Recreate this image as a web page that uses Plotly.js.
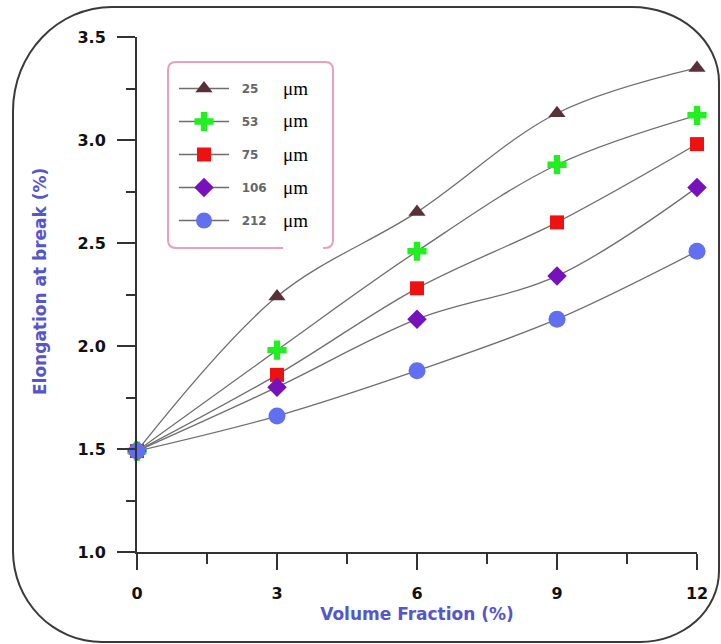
<!DOCTYPE html>
<html>
<head>
<meta charset="utf-8">
<script src="https://cdn.plot.ly/plotly-3.0.1.min.js"></script>
<style>
  html, body { margin:0; padding:0; background:#fff; }
  #wrap { position:relative; width:721px; height:644px; overflow:hidden; }
  #frame { position:absolute; left:12px; top:6px; width:708px; height:637px; box-sizing:border-box;
           border:2px solid #3a3a3a; border-radius:100px 88px 80px 90px / 105px 76px 72px 92px; }
  #chart { position:absolute; left:0; top:0; width:721px; height:644px; }
</style>
</head>
<body>
<div id="wrap">
  <div id="frame"></div>
  <div id="chart"></div>
</div>
<script>
// ---- data ----
const volumeFraction = [0, 3, 6, 9, 12];
const sizeLabels = ['25', '53', '75', '106', '212'];
const elong25  = [1.49, 2.24, 2.65, 3.13, 3.35];
const elong53  = [1.49, 1.98, 2.46, 2.88, 3.12];
const elong75  = [1.49, 1.86, 2.28, 2.60, 2.98];
const elong106 = [1.49, 1.80, 2.13, 2.34, 2.77];
const elong212 = [1.49, 1.66, 1.88, 2.13, 2.46];
const xTicks = [0, 3, 6, 9, 12];
const yTicks = [1.0, 1.5, 2.0, 2.5, 3.0, 3.5];

// ---- styles ----
const seriesValues = [elong25, elong53, elong75, elong106, elong212];
const symbols = ['triangle-up', 'cross', 'square', 'diamond', 'circle'];
const colors = ['#5a3038', '#22ee22', '#ee1111', '#7711bb', '#6070f0'];
const msizes = [15, 16, 14, 15, 17];

const traces = seriesValues.map((vals, i) => ({
  x: volumeFraction, y: vals, type: 'scatter', mode: 'lines+markers',
  name: '&nbsp;&nbsp;<b>' + sizeLabels[i] + '</b>',
  legendgroup: 'g' + i,
  line: {shape: 'spline', smoothing: 1, color: '#6e6e6e', width: 1.3},
  marker: {symbol: symbols[i], size: msizes[i], color: colors[i], line: {width: 0}},
  cliponaxis: false
}));

// pixel helpers for plot-area layout (plot area: x 137..697, y 37..552)
const L = 137, R = 697, T = 37, B = 552;
const px = v => (v - L) / (R - L);
const py = v => (B - v) / (B - T);

function roundRect(x0, y0, x1, y1, r) {
  const rx = r / (R - L), ry = r / (B - T);
  const X0 = px(x0), X1 = px(x1), Y0 = py(y0), Y1 = py(y1);
  return `M${X0+rx},${Y0} L${X1-rx},${Y0} Q${X1},${Y0} ${X1},${Y0-ry} L${X1},${Y1+ry} Q${X1},${Y1} ${X1-rx},${Y1} L${X0+rx},${Y1} Q${X0},${Y1} ${X0},${Y1+ry} L${X0},${Y0-ry} Q${X0},${Y0} ${X0+rx},${Y0} Z`;
}

const umY = [88, 121, 154, 187, 220];
const annotations = umY.map(yv => ({
  xref: 'paper', yref: 'paper', x: px(281), y: py(yv), xanchor: 'left', yanchor: 'middle',
  text: 'μm', showarrow: false, font: {family: 'Liberation Serif, serif', size: 19, color: '#000'}
}));
annotations.push({
  xref: 'paper', yref: 'paper', x: px(40), y: py(282), xanchor: 'center', yanchor: 'middle',
  textangle: -90, showarrow: false, text: '<b>Elongation at break (%)</b>',
  font: {family: 'DejaVu Sans, sans-serif', size: 17, color: '#5555cc'}
});

const layout = {
  width: 721, height: 644,
  paper_bgcolor: 'rgba(0,0,0,0)', plot_bgcolor: 'rgba(0,0,0,0)',
  margin: {l: L, r: 721 - R, t: T, b: 644 - B},
  showlegend: true,
  legend: {
    x: px(174), y: py(74), xanchor: 'left', yanchor: 'top',
    bgcolor: 'rgba(0,0,0,0)', borderwidth: 0,
    tracegroupgap: 14, itemwidth: 50,
    font: {family: 'DejaVu Sans, sans-serif', size: 12, color: '#666'}
  },
  xaxis: {
    range: [0, 12], tickvals: xTicks, ticktext: xTicks.map(String),
    showline: true, linecolor: '#333', linewidth: 2, showgrid: false, zeroline: false,
    ticks: 'outside', ticklen: 16, tickwidth: 2, tickcolor: '#333',
    minor: {dtick: 1.5, tick0: 0, ticks: 'outside', ticklen: 10, tickwidth: 2, tickcolor: '#333'},
    tickfont: {family: 'DejaVu Sans, sans-serif', size: 16, color: '#111', weight: 'bold'},
    ticklabelstandoff: 10,
    title: {text: '<b>Volume Fraction (%)</b>', standoff: 6,
            font: {family: 'DejaVu Sans, sans-serif', size: 17, color: '#5555cc'}}
  },
  yaxis: {
    range: [1.0, 3.5], tickvals: yTicks, ticktext: yTicks.map(v => v.toFixed(1)),
    showline: true, linecolor: '#333', linewidth: 2, showgrid: false, zeroline: false,
    ticks: 'outside', ticklen: 18, tickwidth: 2, tickcolor: '#333',
    minor: {dtick: 0.25, tick0: 1.0, ticks: 'outside', ticklen: 9, tickwidth: 2, tickcolor: '#333'},
    tickfont: {family: 'DejaVu Sans, sans-serif', size: 16, color: '#111', weight: 'bold'},
    ticklabelstandoff: 8
  },
  shapes: [
    {type: 'path', xref: 'paper', yref: 'paper', path: roundRect(168, 62, 333, 248, 8),
     line: {color: '#e8a0bc', width: 2}, fillcolor: 'rgba(0,0,0,0)', layer: 'below'},
    {type: 'rect', xref: 'paper', yref: 'paper', x0: px(283), x1: px(323), y0: py(250), y1: py(76),
     line: {width: 0}, fillcolor: '#ffffff', layer: 'below'}
  ],
  annotations: annotations
};

Plotly.newPlot('chart', traces, layout, {displayModeBar: false, staticPlot: true});
</script>
</body>
</html>
